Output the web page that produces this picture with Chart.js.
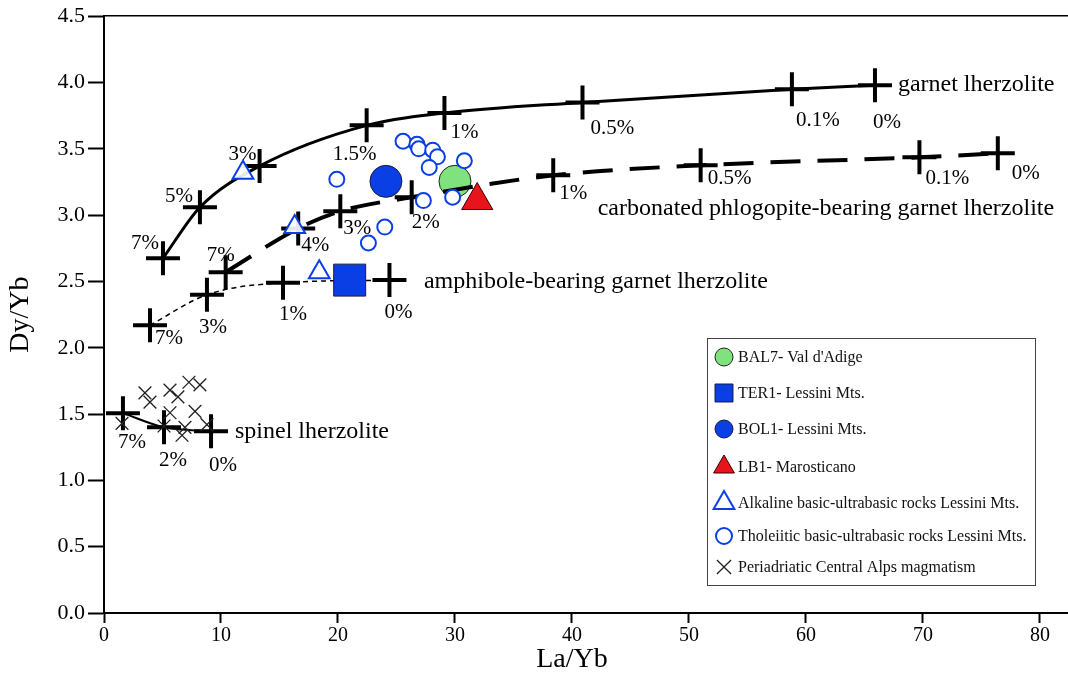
<!DOCTYPE html>
<html>
<head>
<meta charset="utf-8">
<script src="https://cdn.jsdelivr.net/npm/chart.js@4.4.1/dist/chart.umd.min.js"></script>
<style>
  html, body { margin: 0; padding: 0; background: #fff; }
  #wrap { width: 1068px; height: 676px; }
</style>
</head>
<body>
<div id="wrap"><canvas id="c" width="1068" height="676"></canvas></div>
<script>
// Dy/Yb vs La/Yb — melting curves + samples
const SERIF = "'Liberation Serif', 'Times New Roman', serif";
const BLUE = "#0b3fe6";

// axis ticks
const xTicks = [0, 10, 20, 30, 40, 50, 60, 70, 80];
const yTicks = [0, 0.5, 1, 1.5, 2, 2.5, 3, 3.5, 4, 4.5];

// melting curves (La/Yb, Dy/Yb) at each melt degree
const garnetX = [5.04, 8.2, 13.3, 22.45, 29.1, 40.9, 58.8, 65.9];
const garnetY = [2.675, 3.06, 3.37, 3.677, 3.77, 3.85, 3.95, 3.98];
const garnetPct = ["7%", "5%", "3%", "1.5%", "1%", "0.5%", "0.1%", "0%"];

const carbX = [10.4, 16.6, 20.2, 26.3, 38.4, 51.0, 69.7, 76.4];
const carbY = [2.57, 2.90, 3.03, 3.135, 3.30, 3.376, 3.436, 3.466];
const carbPct = ["7%", "4%", "3%", "2%", "1%", "0.5%", "0.1%", "0%"];

const amphX = [3.93, 8.8, 15.3, 24.4];
const amphY = [2.17, 2.40, 2.49, 2.51];
const amphPct = ["7%", "3%", "1%", "0%"];

const spinelX = [1.62, 5.13, 9.15];
const spinelY = [1.507, 1.40, 1.37];
const spinelPct = ["7%", "2%", "0%"];

// samples
const bal7 = [{ x: 30.0, y: 3.255 }];
const ter1 = [{ x: 21.0, y: 2.51 }];
const bol1 = [{ x: 24.1, y: 3.255 }];
const lb1 = [{ x: 31.9, y: 3.11 }];
const alkalineX = [11.88, 16.3, 18.4];
const alkalineY = [3.32, 2.91, 2.57];
const tholX = [25.56, 26.75, 26.9, 28.1, 28.5, 27.8, 30.8, 19.9, 27.3, 29.8, 24.0, 22.6];
const tholY = [3.557, 3.534, 3.50, 3.49, 3.44, 3.36, 3.41, 3.27, 3.11, 3.135, 2.91, 2.79];
const periX = [3.5, 3.93, 5.64, 6.32, 7.26, 8.2, 5.64, 7.78, 6.92, 6.67, 8.8, 1.54, 5.13];
const periY = [1.66, 1.59, 1.68, 1.63, 1.74, 1.72, 1.51, 1.52, 1.40, 1.34, 1.42, 1.43, 1.41];

// label placement (pixel offsets from each curve tick)
const garnetOff = [[-18, -15], [-21, -11], [-17, -12], [-12, 29], [20, 19], [30, 26], [26, 31], [12, 37]];
const carbOff = [[-5, -17], [17, 17], [17, 17], [14, 25], [20, 18], [29, 13], [28, 21], [28, 20]];
const amphOff = [[19, 13], [6, 33], [10, 32], [9, 32]];
const spinelOff = [[9, 29], [9, 33], [12, 34]];

const curveNames = [
  ["garnet lherzolite", 67.86, 3.98],
  ["carbonated phlogopite-bearing garnet lherzolite", 42.2, 3.05],
  ["amphibole-bearing garnet lherzolite", 27.35, 2.50],
  ["spinel lherzolite", 11.2, 1.364],
];

const pts = (xs, ys) => xs.map((x, i) => ({ x, y: ys[i] }));

const curves = [
  { xs: garnetX, ys: garnetY, pct: garnetPct, off: garnetOff },
  { xs: carbX, ys: carbY, pct: carbPct, off: carbOff },
  { xs: amphX, ys: amphY, pct: amphPct, off: amphOff },
  { xs: spinelX, ys: spinelY, pct: spinelPct, off: spinelOff },
];

function curveSet(label, xs, ys, width, dash) {
  return {
    label, data: pts(xs, ys), showLine: true, order: 5,
    borderColor: "#000", borderWidth: width, borderDash: dash || [],
    cubicInterpolationMode: "monotone",
    pointStyle: "cross", pointRadius: 17, pointHoverRadius: 17,
    pointBorderWidth: 4, pointBorderColor: "#000", pointBackgroundColor: "#000",
  };
}

const samples = [
  { label: "BAL7- Val d'Adige", data: bal7, pointStyle: "circle", pointRadius: 16, backgroundColor: "#7fe27f", borderColor: "#222", borderWidth: 1, order: 10, lg: 9 },
  { label: "TER1- Lessini Mts.", data: ter1, pointStyle: "rect", pointRadius: 22.6, backgroundColor: BLUE, borderColor: "#1a1a40", borderWidth: 1, order: 1, lg: 12.7 },
  { label: "BOL1- Lessini Mts.", data: bol1, pointStyle: "circle", pointRadius: 16, backgroundColor: BLUE, borderColor: "#1a1a40", borderWidth: 1, order: 1, lg: 9 },
  { label: "LB1- Marosticano", data: lb1, pointStyle: "triangle", pointRadius: 18, backgroundColor: "#e8141b", borderColor: "#3a0000", borderWidth: 1, order: 1, lg: 12 },
  { label: "Alkaline basic-ultrabasic rocks Lessini Mts.", data: pts(alkalineX, alkalineY), pointStyle: "triangle", pointRadius: 12, backgroundColor: "rgba(255,255,255,0.9)", borderColor: BLUE, borderWidth: 2, order: 1, lg: 12 },
  { label: "Tholeiitic basic-ultrabasic rocks Lessini Mts.", data: pts(tholX, tholY), pointStyle: "circle", pointRadius: 7.5, backgroundColor: "#fff", borderColor: BLUE, borderWidth: 2, order: 1, lg: 8 },
  { label: "Periadriatic Central Alps magmatism", data: pts(periX, periY), pointStyle: "crossRot", pointRadius: 9, backgroundColor: "#222", borderColor: "#222", borderWidth: 1.3, order: 1, lg: 10 },
];

function drawMarker(ctx, ds, x, y, r) {
  ctx.save();
  ctx.fillStyle = ds.backgroundColor;
  ctx.strokeStyle = ds.borderColor;
  ctx.lineWidth = ds.borderWidth;
  ctx.beginPath();
  if (ds.pointStyle === "circle") {
    ctx.arc(x, y, r, 0, Math.PI * 2);
    ctx.fill(); ctx.stroke();
  } else if (ds.pointStyle === "rect") {
    const s = r * Math.SQRT1_2;
    ctx.rect(x - s, y - s, 2 * s, 2 * s);
    ctx.fill(); ctx.stroke();
  } else if (ds.pointStyle === "triangle") {
    for (let k = 0; k < 3; k++) {
      const a = k * 2 * Math.PI / 3;
      const px = x + Math.sin(a) * r, py = y - Math.cos(a) * r;
      k ? ctx.lineTo(px, py) : ctx.moveTo(px, py);
    }
    ctx.closePath();
    ctx.fill(); ctx.stroke();
  } else {
    const d = r * Math.SQRT1_2;
    ctx.moveTo(x - d, y - d); ctx.lineTo(x + d, y + d);
    ctx.moveTo(x + d, y - d); ctx.lineTo(x - d, y + d);
    ctx.stroke();
  }
  ctx.restore();
}

const textPlugin = {
  id: "curveText",
  afterDatasetsDraw(chart) {
    const { ctx, scales: { x, y } } = chart;
    ctx.save();
    ctx.fillStyle = "#000";
    ctx.textAlign = "center";
    ctx.textBaseline = "middle";
    ctx.font = `21px ${SERIF}`;
    curves.forEach((c) => {
      c.xs.forEach((v, i) => {
        ctx.fillText(c.pct[i], x.getPixelForValue(v) + c.off[i][0], y.getPixelForValue(c.ys[i]) + c.off[i][1]);
      });
    });
    ctx.textAlign = "left";
    ctx.font = `24px ${SERIF}`;
    curveNames.forEach(([t, vx, vy]) => ctx.fillText(t, x.getPixelForValue(vx), y.getPixelForValue(vy)));
    ctx.restore();
  },
};

const legendPlugin = {
  id: "boxLegend",
  afterDraw(chart) {
    const ctx = chart.ctx;
    const L = 707, T = 338, W = 328, H = 247;
    const rows = [357, 393, 429, 467, 503, 536, 567];
    ctx.save();
    ctx.strokeStyle = "#444";
    ctx.lineWidth = 1;
    ctx.strokeRect(L + 0.5, T + 0.5, W, H);
    ctx.font = `16px ${SERIF}`;
    ctx.textAlign = "left";
    ctx.textBaseline = "middle";
    samples.forEach((ds, i) => {
      drawMarker(ctx, ds, 724, rows[i], ds.lg);
      ctx.fillStyle = "#111";
      ctx.fillText(ds.label, 738, rows[i] + 1);
    });
    ctx.restore();
  },
};

new Chart(document.getElementById("c"), {
  type: "scatter",
  data: {
    datasets: [
      curveSet("garnet lherzolite", garnetX, garnetY, 3),
      curveSet("carbonated phlogopite-bearing garnet lherzolite", carbX, carbY, 4, [30, 17]),
      curveSet("amphibole-bearing garnet lherzolite", amphX, amphY, 1.5, [5, 4]),
      curveSet("spinel lherzolite", spinelX, spinelY, 2),
      ...samples.map((s) => ({
        label: s.label, data: s.data, order: s.order,
        pointStyle: s.pointStyle, pointRadius: s.pointRadius, pointHoverRadius: s.pointRadius,
        backgroundColor: s.backgroundColor, borderColor: s.borderColor, borderWidth: s.borderWidth,
      })),
    ],
  },
  options: {
    responsive: false,
    animation: false,
    layout: { padding: 0, autoPadding: false },
    plugins: { legend: { display: false }, tooltip: { enabled: false } },
    scales: {
      x: {
        type: "linear", position: "bottom", min: 0, max: 82.4,
        afterBuildTicks: (s) => { s.ticks = xTicks.map((v) => ({ value: v })); },
        afterFit: (s) => { s.height = 63; },
        ticks: { color: "#000", font: { family: SERIF, size: 20 }, padding: 1, maxRotation: 0 },
        grid: { drawOnChartArea: false, drawTicks: true, tickLength: 10, tickWidth: 2, color: "#000" },
        border: { display: true, color: "#000", width: 2 },
        title: { display: true, text: "La/Yb    ", color: "#000", font: { family: SERIF, size: 28 }, padding: { top: 0, bottom: 0 } },
      },
      x2: {
        type: "linear", position: "top", min: 0, max: 82.4,
        afterFit: (s) => { s.height = 16; },
        ticks: { display: false },
        grid: { display: false, drawTicks: false },
        border: { display: true, color: "#000", width: 1.5 },
      },
      y: {
        type: "linear", position: "left", min: 0, max: 4.5,
        afterBuildTicks: (s) => { s.ticks = yTicks.map((v) => ({ value: v })); },
        afterFit: (s) => { s.width = 104; },
        ticks: { color: "#000", font: { family: SERIF, size: 22 }, padding: 3, callback: (v) => Number(v).toFixed(1) },
        grid: { drawOnChartArea: false, drawTicks: true, tickLength: 16, tickWidth: 2, color: "#000" },
        border: { display: true, color: "#000", width: 2 },
        title: { display: true, text: "Dy/Yb", color: "#000", font: { family: SERIF, size: 28 }, padding: { top: 4, bottom: 0 } },
      },
    },
  },
  plugins: [textPlugin, legendPlugin],
});
</script>
</body>
</html>
